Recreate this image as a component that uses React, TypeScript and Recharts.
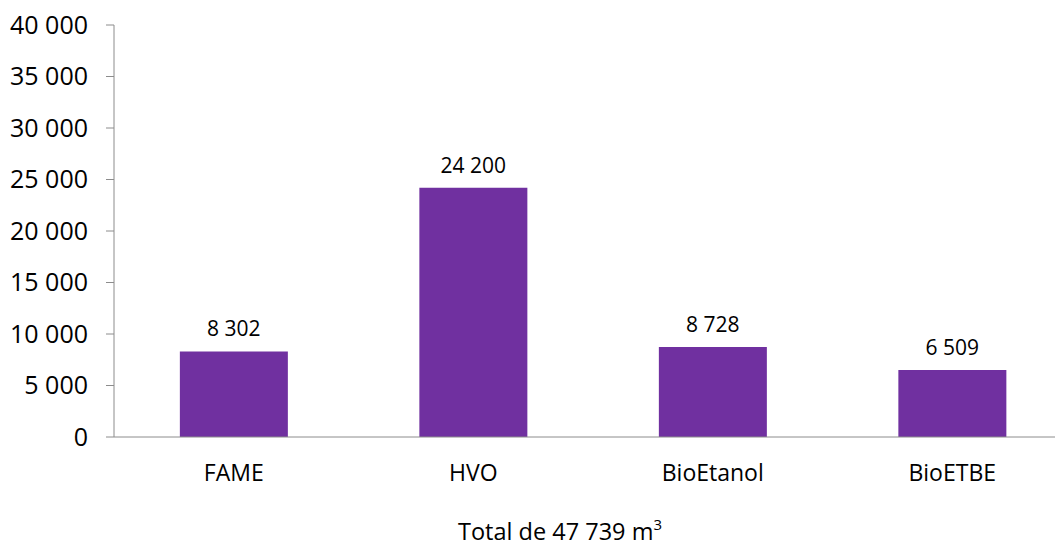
import { BarChart, Bar, XAxis, YAxis, LabelList } from 'recharts';

const categories = ['FAME', 'HVO', 'BioEtanol', 'BioETBE'];
const volumes = [8302, 24200, 8728, 6509];
const yTicks = [0, 5000, 10000, 15000, 20000, 25000, 30000, 35000, 40000];
const totalLabel = 'Total de 47 739 m';

const data = categories.map((name, i) => ({ name, value: volumes[i] }));

const FONT = '"Open Sans", sans-serif';
const AXIS_GREY = '#8c8c8c';

function fmt(v: number): string {
  return String(v).replace(/\B(?=(\d{3})+(?!\d))/g, ' ');
}

function TotalLabel() {
  return (
    <text x={560} y={549 - 9} textAnchor="middle" fontFamily={FONT} fontSize={23.5} fill="#000">
      {totalLabel}
      <tspan dy={-10} fontSize={15}>3</tspan>
    </text>
  );
}

export default function App() {
  return (
    <div style={{ position: 'absolute', left: 0, top: 0, width: 1055, height: 549, overflow: 'hidden', background: '#fff' }}>
      <BarChart
        width={1072}
        height={549}
        data={data}
        margin={{ top: 25, right: 0, left: 0, bottom: 0 }}
        barCategoryGap="27.5%"
      >
        <YAxis
          width={114}
          domain={[0, 40000]}
          ticks={yTicks}
          interval={0}
          tickFormatter={fmt}
          tick={{ fill: '#000', fontSize: 25, fontFamily: FONT, dx: -16 }}
          tickSize={8}
          tickLine={{ stroke: AXIS_GREY }}
          axisLine={{ stroke: AXIS_GREY }}
        />
        <XAxis
          dataKey="name"
          height={112}
          tickLine={false}
          axisLine={{ stroke: AXIS_GREY }}
          tick={{ fill: '#000', fontSize: 23, fontFamily: FONT, dy: 20 }}
          label={<TotalLabel />}
        />
        <Bar dataKey="value" fill="#7030A0" isAnimationActive={false}>
          <LabelList
            dataKey="value"
            position="top"
            offset={15}
            formatter={(v: any) => fmt(Number(v))}
            style={{ fill: '#000', fontSize: 21, fontFamily: FONT }}
          />
        </Bar>
      </BarChart>
    </div>
  );
}
